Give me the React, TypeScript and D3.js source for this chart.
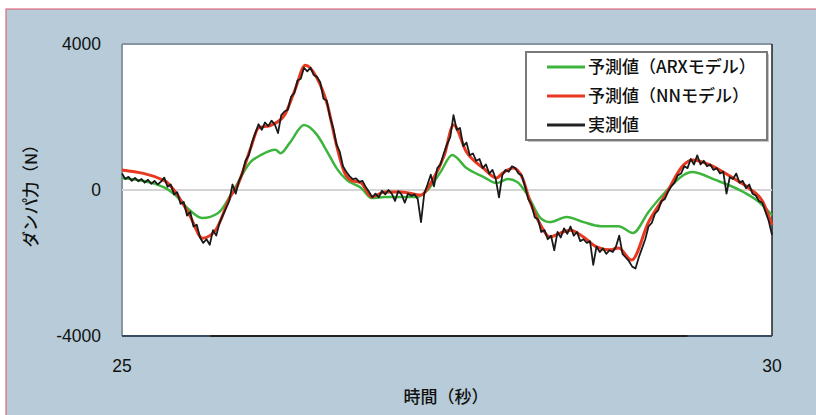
import { curveMonotoneX, line, scaleLinear } from "d3";

// time (s) and damper force (N)
const nnTime = [
  25.0, 25.33, 25.41, 25.52, 25.62, 25.72, 25.84, 25.88, 25.99, 26.05, 26.15,
  26.25, 26.33, 26.41, 26.5, 26.58, 26.65, 26.71, 26.76, 26.84, 26.92, 27.02,
  27.15, 27.3, 27.38, 27.48, 27.55, 27.65, 27.78, 27.88, 27.93, 28.01, 28.08,
  28.14, 28.22, 28.29, 28.37, 28.45, 28.55, 28.65, 28.75, 28.82, 28.92, 29.05,
  29.18, 29.32, 29.39, 29.52, 29.7, 29.82, 29.93, 30.0,
];
const nnValue = [
  550, 250, -50, -690, -1320, -1100, -140, 60, 1150, 1700, 1780, 2050, 2740,
  3420, 3070, 2330, 1230, 490, 270, 190, -190, -55, -55, -140, 220, 960, 1780,
  1040, 600, 330, 470, 600, 330, -330, -960, -1290, -1180, -1100, -1290, -1560,
  -1640, -1590, -1920, -880, -140, 690, 820, 690, 330, 55, -330, -960,
];

const arxTime = [
  25.0, 25.32, 25.41, 25.52, 25.62, 25.74, 25.85, 25.99, 26.07, 26.18, 26.22,
  26.29, 26.4, 26.5, 26.58, 26.65, 26.73, 26.84, 26.92, 27.02, 27.27, 27.35,
  27.45, 27.54, 27.65, 27.78, 27.88, 27.97, 28.04, 28.12, 28.22, 28.29, 28.42,
  28.55, 28.68, 28.82, 28.93, 29.05, 29.18, 29.32, 29.38, 29.57, 29.78, 29.9,
  30.0,
];
const arxValue = [
  330, 80, -140, -550, -770, -630, -55, 770, 960, 1100, 1010, 1290, 1780, 1510,
  1040, 600, 270, 55, -220, -190, -190, 0, 490, 960, 600, 360, 190, 300, 220,
  -140, -770, -880, -740, -880, -990, -990, -1180, -600, -55, 410, 490, 270,
  -55, -330, -690,
];

// measured force, sampled every 0.025 s from 25 s
const measuredStep = 0.025;
const measuredValue = [
  450, 300, 360, 250, 330, 240, 300, 200, 280, 170,
  250, 150, 230, 340, 90, 150, -120, -60, -380, -330,
  -700, -600, -1000, -950, -1300, -1450, -1350, -1500, -1100, -1250,
  -900, -700, -500, -300, 150, -100, 250, 450, 800, 950,
  1300, 1550, 1800, 1650, 1850, 1750, 1900, 1800, 1560, 2050,
  2150, 2200, 2550, 2650, 3000, 3050, 3350, 3250, 3350, 3150,
  3100, 2950, 2500, 2450, 2000, 1700, 1250, 1050, 650, 500,
  380, 300, 320, 220, 250, 80, -50, -200, -100, -200,
  -20, -120, 0, -100, -300, -30, -120, -350, -100, -160,
  -120, -250, -880, -100, 150, 420, 100, 600, 700, 1000,
  1250, 1450, 2050, 1650, 1700, 1200, 1300, 950, 1000, 800,
  850, 600, 700, 450, 550, 300, -200, 400, 550, 500,
  650, 600, 450, 400, 100, -250, -400, -750, -800, -1150,
  -1100, -1350, -1250, -1650, -1150, -1300, -1050, -1200, -1000, -1250,
  -1150, -1400, -1350, -1450, -1400, -2050, -1550, -1700, -1600, -1750,
  -1650, -1700, -1550, -1250, -1750, -1850, -1950, -2100, -2150, -1850,
  -1600, -1350, -1000, -900, -650, -550, -300, -250, -50, 100,
  200, 400, 450, 650, 600, 850, 700, 950, 700, 800,
  650, 700, 550, 600, 450, 500, -100, 350, 300, 450,
  200, 250, 50, 150, -100, -150, -300, -350, -600, -850,
  -1230,
];

const yTicks = [4000, 0, -4000];
const xTicks = [25, 30];

const legendItems = [
  { label: "予測値（ARXモデル）", color: "#3db53d" },
  { label: "予測値（NNモデル）", color: "#e8381f" },
  { label: "実測値", color: "#222222" },
];

export default function App() {
  const W = 816;
  const H = 415;
  const plot = { left: 122, right: 772, top: 44, bottom: 336 };

  const x = scaleLinear().domain([25, 30]).range([plot.left, plot.right]);
  const y = scaleLinear().domain([-4000, 4000]).range([plot.bottom, plot.top]);

  const smooth = line<[number, number]>()
    .x((d) => x(d[0]))
    .y((d) => y(d[1]))
    .curve(curveMonotoneX);
  const raw = line<[number, number]>()
    .x((d) => x(d[0]))
    .y((d) => y(d[1]));

  const nn = nnTime.map((t, i) => [t, nnValue[i]] as [number, number]);
  const arx = arxTime.map((t, i) => [t, arxValue[i]] as [number, number]);
  const measured = measuredValue.map(
    (v, i) => [25 + i * measuredStep, v] as [number, number]
  );

  const jp = "'Noto Sans CJK JP', sans-serif";
  const num = "'Liberation Sans', Arial, sans-serif";

  return (
    <svg
      width={W}
      height={H}
      style={{ position: "absolute", left: 0, top: 0 }}
    >
      <rect x={0} y={0} width={W} height={H} fill="#ffffff" />
      <rect x={6} y={9} width={W} height={H} fill="#b7ccd8" stroke="#e0506a" strokeWidth={1} />

      {/* plot area */}
      <rect
        x={plot.left}
        y={plot.top}
        width={plot.right - plot.left}
        height={plot.bottom - plot.top}
        fill="#ffffff"
      />
      <line x1={plot.left} x2={plot.left} y1={plot.top} y2={plot.bottom} stroke="#8795a0" strokeWidth={2} />
      <line x1={plot.left} x2={plot.right} y1={plot.top} y2={plot.top} stroke="#8795a0" strokeWidth={2} />
      <line x1={plot.right} x2={plot.right} y1={plot.top} y2={plot.bottom} stroke="#222" strokeWidth={1.5} />
      <line x1={plot.left} x2={plot.right} y1={plot.bottom} y2={plot.bottom} stroke="#222" strokeWidth={2} />
      <line x1={plot.left} x2={x(25.68)} y1={plot.bottom} y2={plot.bottom} stroke="#3a4a60" strokeWidth={2} />
      <line x1={x(29.35)} x2={plot.right} y1={plot.bottom} y2={plot.bottom} stroke="#3a4a60" strokeWidth={2} />

      {/* zero line */}
      <line x1={plot.left} x2={plot.right} y1={y(0)} y2={y(0)} stroke="#d4d4d4" strokeWidth={2} />

      <path d={smooth(arx) ?? ""} fill="none" stroke="#3db53d" strokeWidth={2.5} strokeLinejoin="round" />
      <path d={smooth(nn) ?? ""} fill="none" stroke="#e8381f" strokeWidth={3} strokeLinejoin="round" />
      <path d={raw(measured) ?? ""} fill="none" stroke="#1a1a1a" strokeWidth={1.8} strokeLinejoin="round" />

      {/* y tick labels */}
      {yTicks.map((t) => (
        <text
          key={t}
          x={plot.left - 21}
          y={y(t)}
          dy="0.36em"
          textAnchor="end"
          fontFamily={num}
          fontSize={17.5}
          fill="#111"
        >
          {t}
        </text>
      ))}

      {/* x tick labels */}
      {xTicks.map((t) => (
        <text
          key={t}
          x={x(t)}
          y={366}
          dy="0.36em"
          textAnchor="middle"
          fontFamily={num}
          fontSize={17.5}
          fill="#111"
        >
          {t}
        </text>
      ))}

      <text x={446} y={397} dy="0.36em" textAnchor="middle" fontFamily={jp} fontSize={17} fontWeight={500} fill="#111">
        時間（秒）
      </text>
      <text
        transform={`translate(31, 192) rotate(-90)`}
        dy="0.36em"
        textAnchor="middle"
        fontFamily={jp}
        fontSize={16.5}
        fontWeight={500}
        fill="#111"
      >
        ダンパ力（N）
      </text>

      {/* legend */}
      <rect x={528} y={54} width={241} height={88} fill="#8a8a8a" opacity={0.5} />
      <rect x={526} y={52} width={241} height={88} fill="#ffffff" stroke="#7a7a7a" strokeWidth={2} />
      {legendItems.map((it, i) => (
        <g key={it.label} transform={`translate(547, ${67 + i * 29})`}>
          <line x1={0} x2={38} y1={0} y2={0} stroke={it.color} strokeWidth={3} />
          <text x={41} y={0} dy="0.36em" fontFamily={jp} fontSize={17} fontWeight={500} fill="#111">
            {it.label}
          </text>
        </g>
      ))}
    </svg>
  );
}
